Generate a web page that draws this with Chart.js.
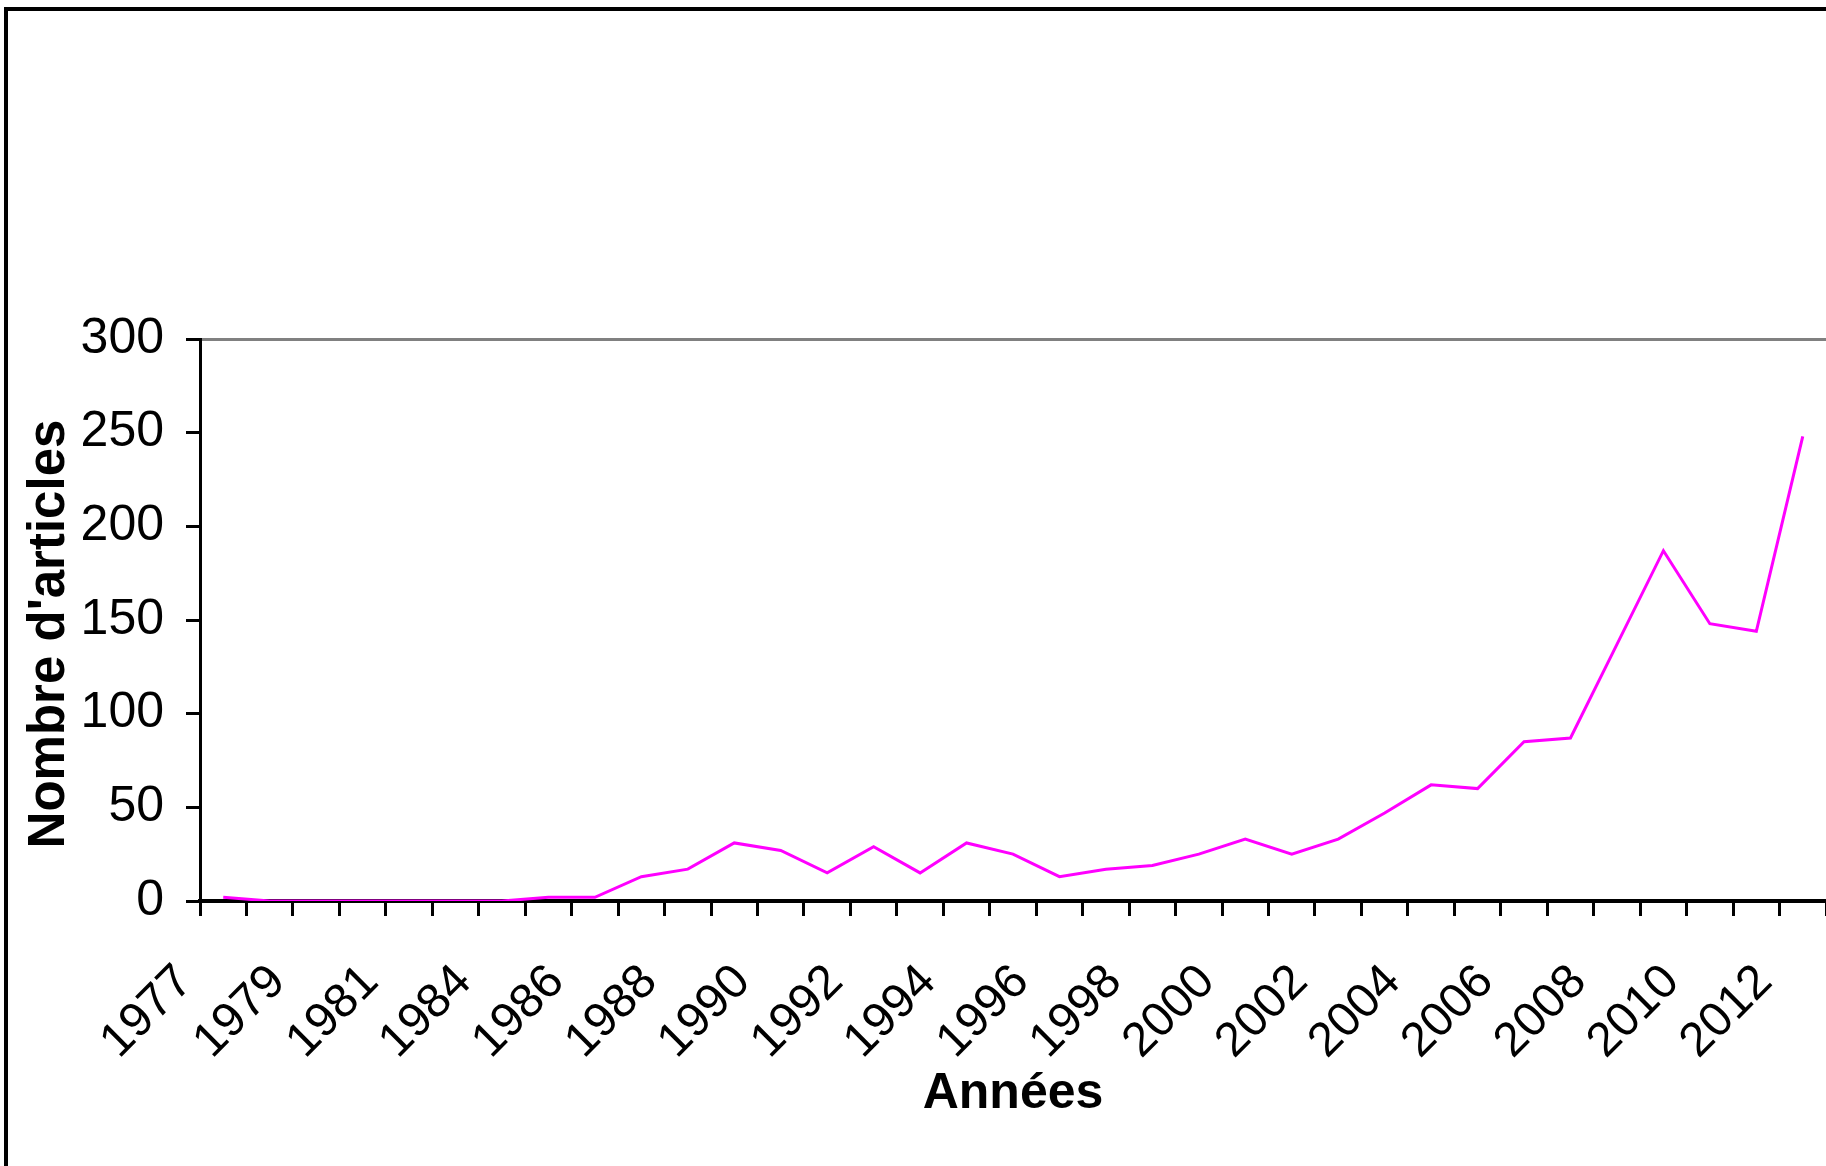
<!DOCTYPE html>
<html>
<head>
<meta charset="utf-8">
<script src="https://cdn.jsdelivr.net/npm/chart.js@4/dist/chart.umd.min.js"></script>
<style>
  html, body { margin: 0; padding: 0; background: #fff; overflow: hidden; }
  #wrap { position: relative; width: 1826px; height: 1166px; }
  #frame { position: absolute; left: 4px; top: 7px; width: 1900px; height: 1300px;
           border-left: 4px solid #000; border-top: 4px solid #000; pointer-events: none; }
  canvas { position: absolute; left: 0; top: 0; }
</style>
</head>
<body>
<div id="wrap">
  <canvas id="chart" width="1826" height="1166"></canvas>
  <div id="frame"></div>
</div>
<script>
// années (1982 absente de la série d'origine)
const years = [1977, 1978, 1979, 1980, 1981, 1982, 1984, 1985, 1986, 1987,
               1988, 1989, 1990, 1991, 1992, 1993, 1994, 1995, 1996, 1997,
               1998, 1999, 2000, 2001, 2002, 2003, 2004, 2005, 2006, 2007,
               2008, 2009, 2010, 2011, 2012];
// nombre d'articles par année
const articles = [2, 0, 0, 0, 0, 0, 0, 2, 2, 13,
                  17, 31, 27, 15, 29, 15, 31, 25, 13, 17,
                  19, 25, 33, 25, 33, 47, 62, 60, 85, 87,
                  137, 187, 148, 144, 248];
const yTicks = [0, 50, 100, 150, 200, 250, 300];
const yTitle = "Nombre d'articles";
const xTitle = 'Années';

const FONT = "'Liberation Sans', Arial, sans-serif";

// titre vertical dessiné à la main pour le placer un peu sous le centre, comme l'original
const yTitlePlugin = {
    id: 'yTitle',
    afterDraw(chart) {
        const c = chart.ctx;
        c.save();
        c.translate(50, 634);
        c.rotate(-Math.PI / 2);
        c.font = 'bold 51px ' + FONT;
        c.fillStyle = '#000';
        c.textAlign = 'center';
        c.textBaseline = 'middle';
        c.fillText(yTitle, 0, 0);
        c.restore();
    }
};

const ctx = document.getElementById('chart').getContext('2d');
new Chart(ctx, {
    type: 'line',
    data: {
        labels: years.map(String),
        datasets: [{
            label: yTitle,
            data: articles,
            borderColor: '#ff00ff',
            borderWidth: 3,
            pointRadius: 0,
            tension: 0,
            fill: false
        }]
    },
    options: {
        responsive: false,
        animation: false,
        devicePixelRatio: 1,
        layout: { padding: { left: 0, right: 0, top: 339, bottom: 0 } },
        plugins: { legend: { display: false }, tooltip: { enabled: false } },
        scales: {
            x: {
                offset: true,
                grid: {
                    offset: true,
                    drawOnChartArea: false,
                    drawTicks: true,
                    tickLength: 15,
                    tickWidth: 3,
                    tickColor: '#000'
                },
                border: { display: true, color: '#000', width: 4 },
                ticks: {
                    autoSkip: false,
                    maxRotation: 45,
                    minRotation: 45,
                    padding: 38,
                    labelOffset: -38,
                    color: '#000',
                    font: { family: FONT, size: 48 },
                    callback: function (val, i) {
                        return i % 2 === 0 ? String(years[i]) : '';
                    }
                },
                title: {
                    display: true,
                    text: xTitle,
                    color: '#000',
                    font: { family: FONT, size: 50, weight: 'bold' },
                    padding: { top: 0, bottom: 42 }
                },
                afterFit: function (scale) {
                    scale.height = 265;
                    scale.paddingLeft = 0;
                    scale.paddingRight = 0;
                }
            },
            y: {
                min: 0,
                max: 300,
                afterBuildTicks: function (scale) {
                    scale.ticks = yTicks.map(v => ({ value: v }));
                },
                grid: {
                    drawOnChartArea: true,
                    color: c => (c.tick && c.tick.value === 300) ? '#808080' : 'rgba(0,0,0,0)',
                    lineWidth: 3,
                    drawTicks: true,
                    tickLength: 14,
                    tickWidth: 3,
                    tickColor: '#000'
                },
                border: { display: true, color: '#000', width: 3 },
                ticks: {
                    padding: 22,
                    color: '#000',
                    font: { family: FONT, size: 50 }
                },
                title: { display: false },
                afterFit: function (scale) {
                    scale.width = 200;
                    scale.paddingTop = 0;
                    scale.paddingBottom = 0;
                }
            }
        }
    },
    plugins: [yTitlePlugin]
});
</script>
</body>
</html>
